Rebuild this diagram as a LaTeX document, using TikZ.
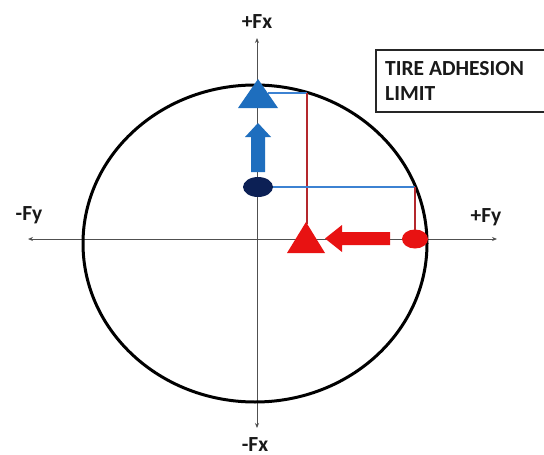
\documentclass[tikz,border=0pt]{standalone}
\usepackage{fontspec}
\setmainfont{Carlito}
\usetikzlibrary{arrows.meta}
\definecolor{triblue}{RGB}{30,110,190}
\definecolor{navy}{RGB}{12,32,85}
\definecolor{lineblue}{RGB}{60,130,210}
\definecolor{redfill}{RGB}{232,18,18}
\definecolor{linered}{RGB}{180,40,45}
\definecolor{axisgray}{RGB}{80,80,80}
\begin{document}
\begin{tikzpicture}[x=1pt,y=-1pt,
  lbl/.style={font=\fontsize{21.5}{25}\selectfont\bfseries, inner sep=0pt, text=black!90},
  axisline/.style={draw=axisgray, line width=1pt, {Stealth[length=5pt,width=4pt]}-{Stealth[length=5pt,width=4pt]}},
  bluelink/.style={draw=lineblue, line width=1.6pt},
  redlink/.style={draw=linered, line width=1.6pt},
  limitbox/.style={draw=black!85, line width=2pt, minimum width=190pt, minimum height=62pt, anchor=north west, inner sep=0pt}
]
\clip (0,0) rectangle (544,455);
\fill[white] (0,0) rectangle (544,455);

% coordinates
\coordinate (ytop) at (257,38);
\coordinate (ybot) at (257,428);
\coordinate (xl) at (28,239);
\coordinate (xr) at (497,239);
\coordinate (ctr) at (255,243.5);
\coordinate (pA) at (307,93);
\coordinate (pB) at (415,187);
\coordinate (btriR) at (268,93);
\coordinate (navyC) at (258,187);
\coordinate (rtriTop) at (307,224);
\coordinate (rcircTop) at (415,230);

% axes
\draw[axisline] (xl) -- (xr);
\draw[axisline] (ybot) -- (ytop);

% limit circle
\draw[black, line width=3pt] (ctr) ellipse [x radius=172pt, y radius=158.5pt];

% connector lines
\draw[bluelink] (btriR) -- (pA);
\draw[redlink] (pA) -- (rtriTop);
\draw[bluelink] (navyC) -- (pB);
\draw[redlink] (pB) -- (rcircTop);

% blue triangle
\fill[triblue] (258,79) -- (278,108) -- (238,108) -- cycle;
% blue up arrow
\fill[triblue] (251,172) -- (251,137) -- (245,137) -- (258,123) -- (271,137) -- (265,137) -- (265,172) -- cycle;
% navy ellipse
\fill[navy] (navyC) ellipse [x radius=15pt, y radius=10pt];

% red triangle
\fill[redfill] (306,222) -- (325,253) -- (287,253) -- cycle;
% red left arrow
\fill[redfill] (390,232) -- (342,232) -- (342,225) -- (325,238.5) -- (342,252) -- (342,245) -- (390,245) -- cycle;
% red circle
\fill[redfill] (415,239) ellipse [x radius=13pt, y radius=9.5pt];

% labels
\node[lbl, anchor=base] (lfxp) at (257,28) {+Fx};
\node[lbl, anchor=base] (lfxm) at (255,451) {-Fx};
\node[lbl, anchor=base] (lfym) at (29,220) {-Fy};
\node[lbl, anchor=base] (lfyp) at (486,222) {+Fy};

% box
\node[limitbox] (box) at (375,49) {};
\node[lbl, anchor=north west, align=left] (boxtext) at (385,61) {TIRE ADHESION\\LIMIT};
\end{tikzpicture}
\end{document}
